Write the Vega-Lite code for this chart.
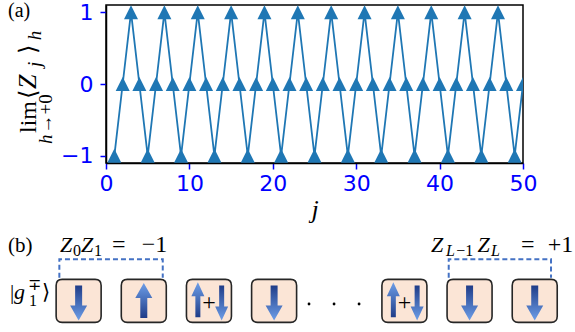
{
  "$schema": "https://vega.github.io/schema/vega-lite/v6.json",
  "padding": {"left": 7, "top": 0, "right": 0, "bottom": 0},
  "background": "white",
  "bounds": "flush",
  "spacing": 20,
  "datasets": {
    "zj": [
      {"j":1,"v":-1},{"j":2,"v":0},{"j":3,"v":1},{"j":4,"v":0},{"j":5,"v":-1},{"j":6,"v":0},{"j":7,"v":1},{"j":8,"v":0},{"j":9,"v":-1},{"j":10,"v":0},
      {"j":11,"v":1},{"j":12,"v":0},{"j":13,"v":-1},{"j":14,"v":0},{"j":15,"v":1},{"j":16,"v":0},{"j":17,"v":-1},{"j":18,"v":0},{"j":19,"v":1},{"j":20,"v":0},
      {"j":21,"v":-1},{"j":22,"v":0},{"j":23,"v":1},{"j":24,"v":0},{"j":25,"v":-1},{"j":26,"v":0},{"j":27,"v":1},{"j":28,"v":0},{"j":29,"v":-1},{"j":30,"v":0},
      {"j":31,"v":1},{"j":32,"v":0},{"j":33,"v":-1},{"j":34,"v":0},{"j":35,"v":1},{"j":36,"v":0},{"j":37,"v":-1},{"j":38,"v":0},{"j":39,"v":1},{"j":40,"v":0},
      {"j":41,"v":-1},{"j":42,"v":0},{"j":43,"v":1},{"j":44,"v":0},{"j":45,"v":-1},{"j":46,"v":0},{"j":47,"v":1},{"j":48,"v":0},{"j":49,"v":-1},{"j":50,"v":0}
    ],
    "yBigUp": [
      {"j":-8.39,"v":-0.682,"t":"lim"},
      {"j":-8.39,"v":-0.209,"t":"⟨"},
      {"j":-8.39,"v":0.42,"t":"⟩"}
    ],
    "yBigIt": [
      {"j":-8.39,"v":-0.07,"t":"Z"}
    ],
    "ySmallIt": [
      {"j":-7.79,"v":0.235,"t":"j"},
      {"j":-7.79,"v":0.61,"t":"h"},
      {"j":-6.47,"v":-0.835,"t":"h"}
    ],
    "ySmallUp": [
      {"j":-6.47,"v":-0.689,"t":"→+0"}
    ],
    "aLabel": [
      {"j":-11.75,"v":0.933,"t":"(a)"}
    ],
    "boxes": [
      {"k":0,"v":0},{"k":1,"v":0},{"k":2,"v":0},{"k":3,"v":0},{"k":5,"v":0},{"k":6,"v":0},{"k":7,"v":0}
    ],
    "arrows": [
      {"k":0,"v":-0.1,"dir":"down","w":"wide"},
      {"k":1,"v":0.02,"dir":"up","w":"wide"},
      {"k":1.83,"v":0.05,"dir":"up","w":"narrow"},
      {"k":2.195,"v":-0.1,"dir":"down","w":"narrow"},
      {"k":3,"v":-0.1,"dir":"down","w":"wide"},
      {"k":4.83,"v":0.05,"dir":"up","w":"narrow"},
      {"k":5.195,"v":-0.1,"dir":"down","w":"narrow"},
      {"k":6,"v":-0.1,"dir":"down","w":"wide"},
      {"k":7,"v":-0.1,"dir":"down","w":"wide"}
    ],
    "plus": [
      {"k":2,"v":-0.12,"t":"+"},
      {"k":5,"v":-0.12,"t":"+"}
    ],
    "dots": [
      {"k":3.536,"v":-0.145},{"k":3.92,"v":-0.145},{"k":4.304,"v":-0.145}
    ],
    "brackets": [
      {"b":"left","o":0,"k":-0.296,"v":1.083},
      {"b":"left","o":1,"k":-0.296,"v":1.941},
      {"b":"left","o":2,"k":1.291,"v":1.941},
      {"b":"left","o":3,"k":1.291,"v":1.083},
      {"b":"right","o":0,"k":5.68,"v":1.083},
      {"b":"right","o":1,"k":5.68,"v":1.941},
      {"b":"right","o":2,"k":7.25,"v":1.941},
      {"b":"right","o":3,"k":7.25,"v":1.083}
    ],
    "bigUp": [
      {"k":-1.083,"v":2.282,"t":"(b)"},
      {"k":-1.053,"v":0.089,"t":"|"},
      {"k":-0.562,"v":0.089,"t":"⟩"}
    ],
    "rhs": [
      {"k":0.513,"v":2.282,"t":"="},
      {"k":0.97,"v":2.282,"t":"−1"},
      {"k":6.789,"v":2.282,"t":"="},
      {"k":7.2,"v":2.282,"t":"+1"}
    ],
    "bigIt": [
      {"k":-0.285,"v":2.282,"t":"Z"},
      {"k":0.037,"v":2.282,"t":"Z"},
      {"k":5.409,"v":2.282,"t":"Z"},
      {"k":6.12,"v":2.282,"t":"Z"},
      {"k":-0.991,"v":0.089,"t":"g"}
    ],
    "smallUp": [
      {"k":-0.086,"v":2.095,"t":"0"},
      {"k":0.236,"v":2.095,"t":"1"},
      {"k":5.795,"v":2.095,"t":"−1"},
      {"k":-0.761,"v":-0.238,"t":"1"},
      {"k":-0.777,"v":0.509,"t":"∓"}
    ],
    "smallIt": [
      {"k":5.64,"v":2.095,"t":"L"},
      {"k":6.33,"v":2.095,"t":"L"}
    ]
  },
  "vconcat": [
    {
      "width": 417,
      "height": 158,
      "view": {"stroke": "black", "strokeWidth": 1.5},
      "encoding": {
        "x": {"field": "j", "type": "quantitative",
          "scale": {"domain": [0, 50], "nice": false, "zero": false},
          "axis": {"values": [0, 10, 20, 30, 40, 50], "grid": false, "labelColor": "#0000ff", "tickColor": "#0000ff",
            "labelFont": "DejaVu Sans", "labelFontSize": 22, "tickSize": 6, "tickWidth": 1.5,
            "domainColor": "black", "domainWidth": 1.5, "labelPadding": 4, "labelFlush": false, "labelOverlap": false,
            "title": "j", "titleFont": "Liberation Serif", "titleFontStyle": "italic", "titleFontWeight": "normal",
            "titleFontSize": 26, "titleColor": "black", "titlePadding": 2}},
        "y": {"field": "v", "type": "quantitative",
          "scale": {"domain": [-1.1, 1.1], "nice": false, "zero": false},
          "axis": {"values": [-1, 0, 1], "grid": false, "labelColor": "#0000ff", "tickColor": "#0000ff",
            "labelFont": "DejaVu Sans", "labelFontSize": 22, "tickSize": 6, "tickWidth": 1.5,
            "domainColor": "black", "domainWidth": 1.5, "labelPadding": 7, "labelFlush": false, "labelOverlap": false,
            "title": null}}
      },
      "layer": [
        {
          "data": {"name": "zj"},
          "mark": {"type": "line", "color": "#1f77b4", "strokeWidth": 1.8, "clip": true}
        },
        {
          "data": {"name": "zj"},
          "mark": {"type": "point", "shape": "M0,-1L1,1L-1,1Z", "size": 196, "filled": true, "color": "#1f77b4", "opacity": 1, "clip": true}
        },
        {
          "data": {"name": "yBigUp"},
          "mark": {"type": "text", "angle": 270, "align": "left", "baseline": "alphabetic", "font": "Liberation Serif", "fontSize": 24, "color": "black"},
          "encoding": {"text": {"field": "t"}}
        },
        {
          "data": {"name": "yBigIt"},
          "mark": {"type": "text", "angle": 270, "align": "left", "baseline": "alphabetic", "font": "Liberation Serif", "fontStyle": "italic", "fontSize": 26, "color": "black"},
          "encoding": {"text": {"field": "t"}}
        },
        {
          "data": {"name": "ySmallIt"},
          "mark": {"type": "text", "angle": 270, "align": "left", "baseline": "alphabetic", "font": "Liberation Serif", "fontStyle": "italic", "fontSize": 19, "color": "black"},
          "encoding": {"text": {"field": "t"}}
        },
        {
          "data": {"name": "ySmallUp"},
          "mark": {"type": "text", "angle": 270, "align": "left", "baseline": "alphabetic", "font": "Liberation Serif", "fontSize": 19, "color": "black"},
          "encoding": {"text": {"field": "t"}}
        },
        {
          "data": {"name": "aLabel"},
          "mark": {"type": "text", "align": "left", "baseline": "alphabetic", "font": "Liberation Serif", "fontSize": 20, "color": "black"},
          "encoding": {"text": {"field": "t"}}
        }
      ]
    },
    {
      "width": 417,
      "height": 150,
      "view": {"stroke": null},
      "encoding": {
        "x": {"field": "k", "type": "quantitative", "scale": {"domain": [0.42, 6.82], "nice": false, "zero": false}, "axis": null},
        "y": {"field": "v", "type": "quantitative", "scale": {"domain": [-1.5, 5.5], "nice": false, "zero": false}, "axis": null}
      },
      "layer": [
        {
          "data": {"name": "brackets"},
          "mark": {"type": "line", "color": "#4472c4", "strokeWidth": 2, "strokeDash": [5, 3]},
          "encoding": {
            "detail": {"field": "b"},
            "order": {"field": "o", "type": "quantitative"}
          }
        },
        {
          "data": {"name": "boxes"},
          "mark": {"type": "point", "shape": "M -0.733 -0.955 L 0.733 -0.955 Q 1 -0.955 1 -0.688 L 1 0.688 Q 1 0.955 0.733 0.955 L -0.733 0.955 Q -1 0.955 -1 0.688 L -1 -0.688 Q -1 -0.955 -0.733 -0.955 Z",
            "size": 2025, "filled": true, "fill": "#fbe5d6", "stroke": "#262626", "strokeWidth": 1.6, "opacity": 1, "fillOpacity": 1, "strokeOpacity": 1}
        },
        {
          "data": {"name": "arrows"},
          "transform": [{"filter": "datum.dir === 'down' && datum.w === 'wide'"}],
          "mark": {"type": "point", "size": 1225, "filled": true, "opacity": 1, "strokeWidth": 0,
            "shape": "M -0.2 -1 L 0.2 -1 L 0.2 0.143 L 0.486 0.143 L 0 1 L -0.486 0.143 L -0.2 0.143 Z",
            "fill": {"gradient": "linear", "x1": 0, "y1": 0, "x2": 0, "y2": 1,
              "stops": [{"offset": 0, "color": "#1f3c88"}, {"offset": 1, "color": "#6d9ee8"}]}}
        },
        {
          "data": {"name": "arrows"},
          "transform": [{"filter": "datum.dir === 'down' && datum.w === 'narrow'"}],
          "mark": {"type": "point", "size": 1225, "filled": true, "opacity": 1, "strokeWidth": 0,
            "shape": "M -0.143 -1 L 0.143 -1 L 0.143 0.2 L 0.371 0.2 L 0 1 L -0.371 0.2 L -0.143 0.2 Z",
            "fill": {"gradient": "linear", "x1": 0, "y1": 0, "x2": 0, "y2": 1,
              "stops": [{"offset": 0, "color": "#1f3c88"}, {"offset": 1, "color": "#6d9ee8"}]}}
        },
        {
          "data": {"name": "arrows"},
          "transform": [{"filter": "datum.dir === 'up' && datum.w === 'wide'"}],
          "mark": {"type": "point", "size": 1225, "filled": true, "opacity": 1, "strokeWidth": 0,
            "shape": "M -0.2 1 L 0.2 1 L 0.2 -0.143 L 0.486 -0.143 L 0 -1 L -0.486 -0.143 L -0.2 -0.143 Z",
            "fill": {"gradient": "linear", "x1": 0, "y1": 0, "x2": 0, "y2": 1,
              "stops": [{"offset": 0, "color": "#6d9ee8"}, {"offset": 1, "color": "#1f3c88"}]}}
        },
        {
          "data": {"name": "arrows"},
          "transform": [{"filter": "datum.dir === 'up' && datum.w === 'narrow'"}],
          "mark": {"type": "point", "size": 1225, "filled": true, "opacity": 1, "strokeWidth": 0,
            "shape": "M -0.143 1 L 0.143 1 L 0.143 -0.2 L 0.371 -0.2 L 0 -1 L -0.371 -0.2 L -0.143 -0.2 Z",
            "fill": {"gradient": "linear", "x1": 0, "y1": 0, "x2": 0, "y2": 1,
              "stops": [{"offset": 0, "color": "#6d9ee8"}, {"offset": 1, "color": "#1f3c88"}]}}
        },
        {
          "data": {"name": "dots"},
          "mark": {"type": "point", "shape": "circle", "size": 8, "filled": true, "color": "black", "opacity": 1}
        },
        {
          "data": {"name": "plus"},
          "mark": {"type": "text", "align": "center", "baseline": "middle", "font": "Liberation Serif", "fontSize": 24, "color": "black"},
          "encoding": {"text": {"field": "t"}}
        },
        {
          "data": {"name": "bigUp"},
          "mark": {"type": "text", "align": "left", "baseline": "alphabetic", "font": "Liberation Serif", "fontSize": 21, "color": "black"},
          "encoding": {"text": {"field": "t"}}
        },
        {
          "data": {"name": "rhs"},
          "mark": {"type": "text", "align": "left", "baseline": "alphabetic", "font": "Liberation Serif", "fontSize": 24, "color": "black"},
          "encoding": {"text": {"field": "t"}}
        },
        {
          "data": {"name": "bigIt"},
          "mark": {"type": "text", "align": "left", "baseline": "alphabetic", "font": "Liberation Serif", "fontStyle": "italic", "fontSize": 22, "color": "black"},
          "encoding": {"text": {"field": "t"}}
        },
        {
          "data": {"name": "smallUp"},
          "mark": {"type": "text", "align": "left", "baseline": "alphabetic", "font": "Liberation Serif", "fontSize": 16, "color": "black"},
          "encoding": {"text": {"field": "t"}}
        },
        {
          "data": {"name": "smallIt"},
          "mark": {"type": "text", "align": "left", "baseline": "alphabetic", "font": "Liberation Serif", "fontStyle": "italic", "fontSize": 16, "color": "black"},
          "encoding": {"text": {"field": "t"}}
        }
      ]
    }
  ]
}
